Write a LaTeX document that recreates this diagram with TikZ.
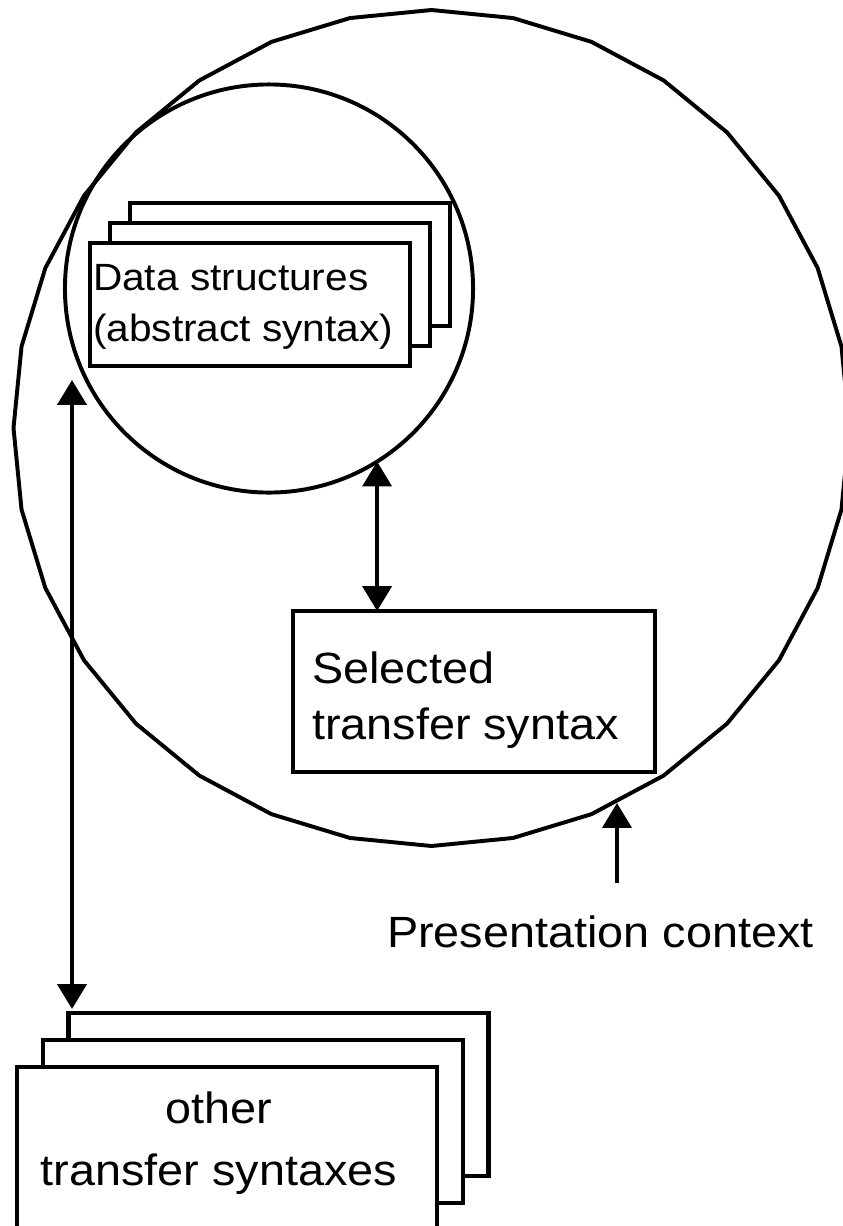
\documentclass[tikz,border=0pt]{standalone}
\usepackage{fontspec}
\newfontfamily\labfont[FakeStretch=1.07]{Liberation Sans}
\usetikzlibrary{arrows.meta}
\tikzset{
  box/.style={draw, fill=white, line width=3.1pt, rectangle, inner sep=0pt, outer sep=0pt},
  ring/.style={draw, line width=2.8pt},
  dbl/.style={line width=2.9pt, {Triangle[length=0.62cm,width=0.72cm]}-{Triangle[length=0.62cm,width=0.72cm]}},
  sgl/.style={line width=2.9pt, -{Triangle[length=0.62cm,width=0.72cm]}},
  lbl/.style={inner sep=0pt, outer sep=0pt},
  smallfont/.style={font={\labfont\fontsize{27pt}{36.1pt}\selectfont}},
  bigfont/.style={font={\labfont\fontsize{31.1pt}{#1}\selectfont}},
}
\begin{document}
\begin{tikzpicture}[x=0.025cm, y=-0.025cm]
\useasboundingbox (0,0) rectangle (843,1226);
\clip (0,0) rectangle (843,1226);
% presentation context (32-gon)
\draw[ring] plot[samples=33, domain=0:360] ({431.5+418*cos(\x)},{428+418*sin(\x)}) -- cycle;
% inner circle
\node[circle, ring, minimum size=10.2cm, inner sep=0pt, outer sep=0pt] (inner) at (269,288.5) {};
% data structures stack
\node[box, minimum width=8cm, minimum height=3.075cm] (dback) at (290,264.5) {};
\node[box, minimum width=8cm, minimum height=3.075cm] (dmid) at (270,284.5) {};
\node[box, minimum width=8cm, minimum height=3.075cm] (dfront) at (250,304.5) {};
\node[lbl, smallfont, anchor=base west, align=left] (dtext) at (93,341.5) {Data structures\\(abstract syntax)};
% selected transfer syntax
\node[box, minimum width=9.05cm, minimum height=4.025cm] (sel) at (474,691.5) {};
\node[lbl, bigfont=39.7pt, anchor=base west, align=left] (seltext) at (312,739) {Selected\\transfer syntax};
% other transfer syntaxes stack
\node[box, minimum width=10.5cm, minimum height=4.075cm] (oback) at (278.5,1094.5) {};
\node[box, minimum width=10.5cm, minimum height=4.075cm] (omid) at (253,1121.5) {};
\node[box, minimum width=10.5cm, minimum height=4.075cm] (ofront) at (227,1148.5) {};
\node[lbl, bigfont=43.9pt, anchor=base, align=center] (otext) at (219,1185) {other\\transfer syntaxes};
% label
\node[lbl, bigfont=36pt, anchor=base west] (pctext) at (387,947) {Presentation context};
% arrows
\draw[dbl] (inner.-58.3) -- (inner.-58.3 |- sel.north);
\coordinate (la1) at (72,380);
\coordinate (la2) at (72,1009);
\draw[dbl] (la1) -- (la2);
\coordinate (pcfoot) at (617,883);
\coordinate (pctip) at (617,803);
\draw[sgl] (pcfoot) -- (pctip);
\end{tikzpicture}
\end{document}
